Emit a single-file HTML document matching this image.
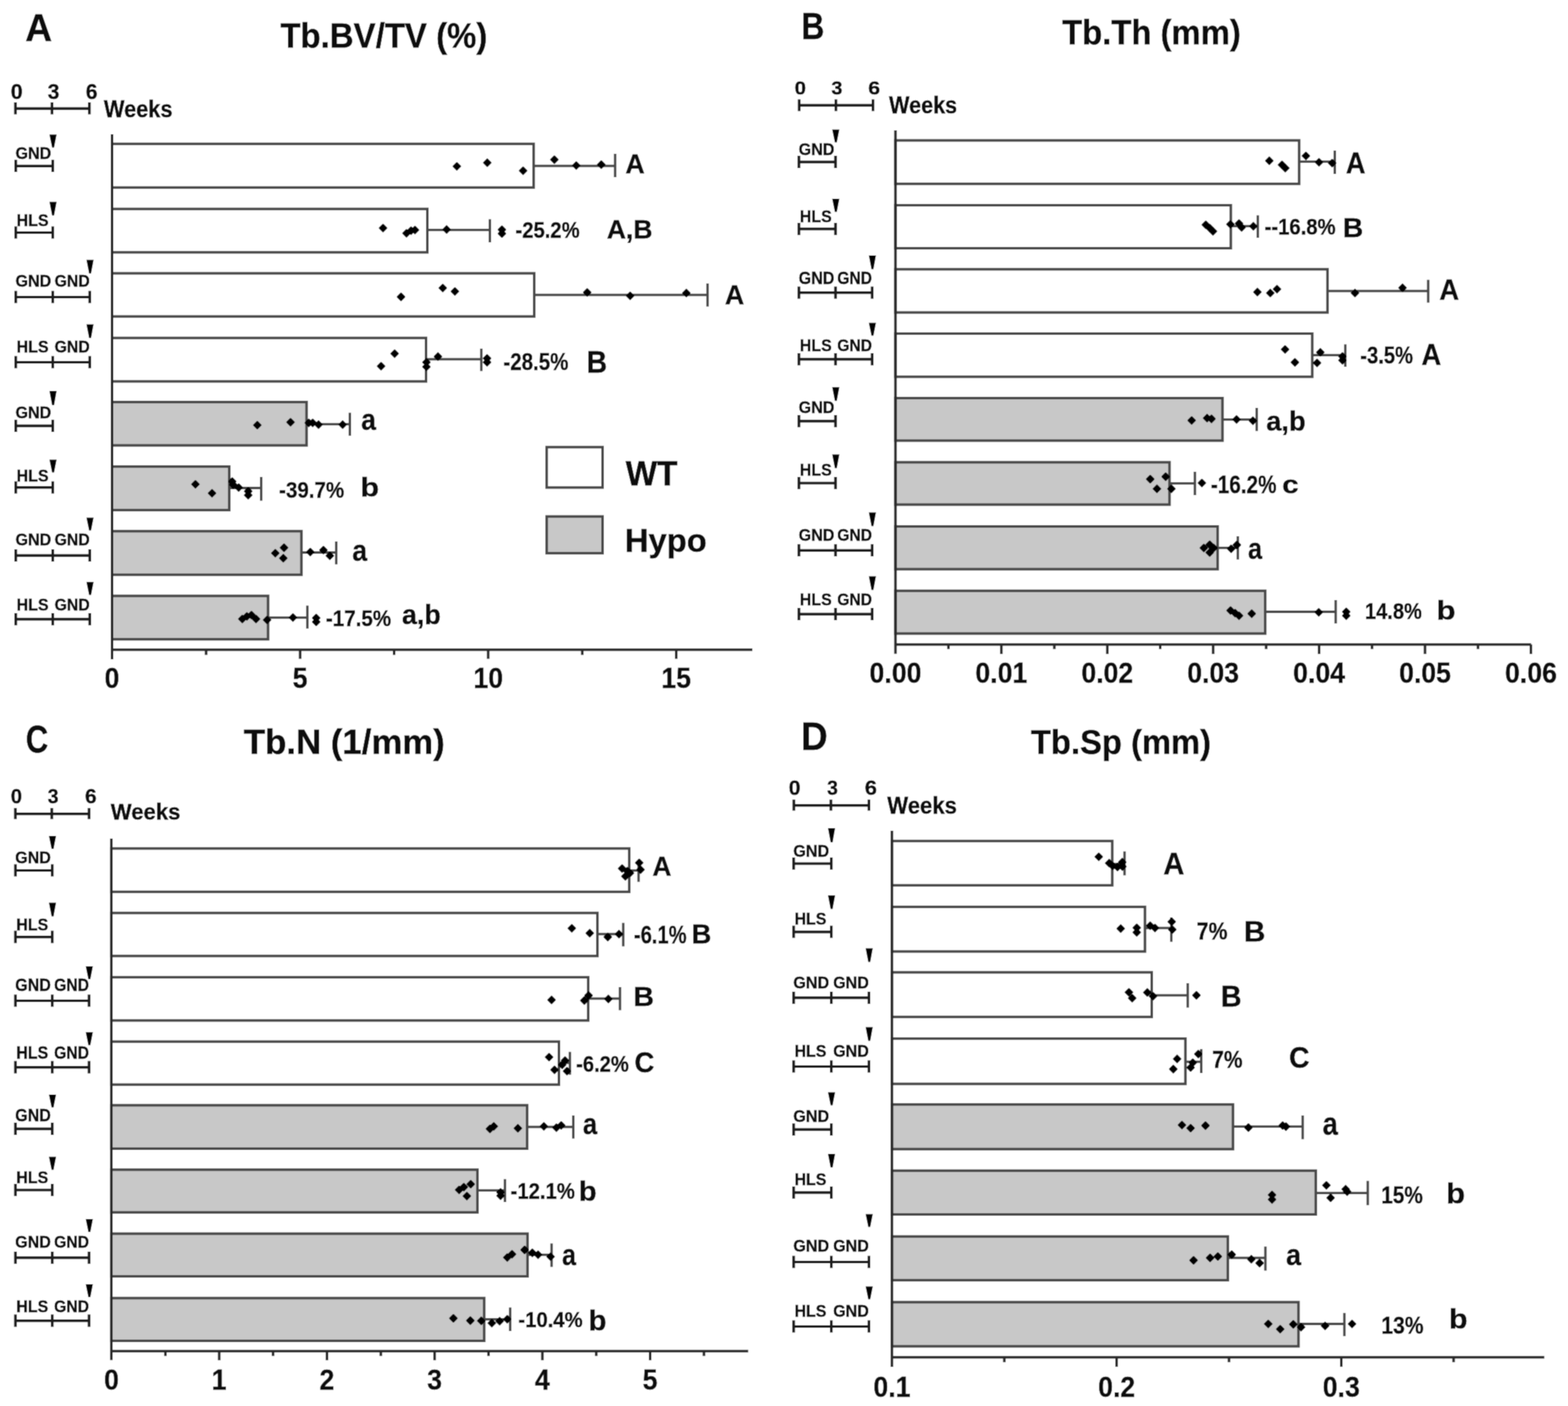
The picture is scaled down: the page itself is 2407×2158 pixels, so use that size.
<!DOCTYPE html>
<html><head><meta charset="utf-8"><title>Trabecular bone microarchitecture</title>
<style>
html,body{margin:0;padding:0;background:#fff;}
body{width:2407px;height:2158px;overflow:hidden;}
svg{display:block;}
#wrap{width:2407px;height:2158px;}
text{font-family:"Liberation Sans",Arial,sans-serif;font-weight:bold;fill:#111;}
.c{fill:#0a0a0a;stroke:#0a0a0a;stroke-width:0.6;}
.r{fill:#111;stroke:#111;stroke-width:0.6;}
.tl{stroke:#1e1e1e;stroke-width:4.2;fill:none;}
.ar{fill:#000;}
.bar{stroke:#484848;stroke-width:4.0;}
.eb{stroke:#484848;stroke-width:3.8;fill:none;}
.d{fill:#000;stroke:#000;stroke-width:3.0;stroke-linejoin:round;}
.ax{stroke:#2a2a2a;stroke-width:4.0;fill:none;}
</style></head>
<body>
<div id="wrap">
<svg width="2407" height="2158" viewBox="0 0 2407 2158">
<defs><filter id="soft" filterUnits="userSpaceOnUse" x="0" y="0" width="2407" height="2158"><feConvolveMatrix order="3" kernelMatrix="1 2 1 2 8 2 1 2 1" divisor="20" edgeMode="duplicate"/></filter></defs>
<g filter="url(#soft)">
<rect width="2407" height="2158" fill="#fff"/>
<path class="tl" d="M23.7 166.7H137.2M23.7 157V175.6M79.8 157V175.6M137.2 157V175.6"/>
<path class="tl" d="M24.2 254.8H81.0M24.2 245.3V264.1M81.0 245.3V264.1"/>
<path class="ar" d="M75.9 206.5H86.9L83.0 226.4H80.0Z"/>
<path class="tl" d="M24.2 357.0H81.0M24.2 347.5V366.3M81.0 347.5V366.3"/>
<path class="ar" d="M75.9 309.8H86.9L83.0 330.8H80.0Z"/>
<path class="tl" d="M24.2 456.0H137.8M24.2 446.5V465.3M137.8 446.5V465.3M81.0 446.5V465.3"/>
<path class="ar" d="M132.7 398.8H143.7L139.8 419.8H136.8Z"/>
<path class="tl" d="M24.2 556.0H137.8M24.2 546.5V565.3M137.8 546.5V565.3M81.0 546.5V565.3"/>
<path class="ar" d="M132.7 497.7H143.7L139.8 518.7H136.8Z"/>
<path class="tl" d="M24.2 653.7H81.0M24.2 644.2V663.0M81.0 644.2V663.0"/>
<path class="ar" d="M75.9 599.9H86.9L83.0 622.0H80.0Z"/>
<path class="tl" d="M24.2 748.2H81.0M24.2 738.7V757.5M81.0 738.7V757.5"/>
<path class="ar" d="M75.9 705.4H86.9L83.0 725.3H80.0Z"/>
<path class="tl" d="M24.2 852.6H137.8M24.2 843.1V861.9M137.8 843.1V861.9M81.0 843.1V861.9"/>
<path class="ar" d="M132.7 794.4H143.7L139.8 814.3H136.8Z"/>
<path class="tl" d="M24.2 950.4H137.8M24.2 940.9V959.7M137.8 940.9V959.7M81.0 940.9V959.7"/>
<path class="ar" d="M132.7 893.3H143.7L139.8 913.2H136.8Z"/>
<rect class="bar" x="172.0" y="220.8" width="647.2" height="67.0" fill="#fff"/>
<rect class="bar" x="172.0" y="320.7" width="484.0" height="66.6" fill="#fff"/>
<rect class="bar" x="172.0" y="419.5" width="648.1" height="66.2" fill="#fff"/>
<rect class="bar" x="172.0" y="518.7" width="482.0" height="66.7" fill="#fff"/>
<rect class="bar" x="172.0" y="617.1" width="298.6" height="66.5" fill="#c8c8c8"/>
<rect class="bar" x="172.0" y="716.1" width="179.9" height="66.8" fill="#c8c8c8"/>
<rect class="bar" x="172.0" y="815.3" width="290.7" height="66.9" fill="#c8c8c8"/>
<rect class="bar" x="172.0" y="914.6" width="239.5" height="66.6" fill="#c8c8c8"/>
<path class="eb" d="M819.2 254.7H944.3M944.3 236V272"/>
<path class="eb" d="M656.0 352.8H752M752 336.5V371.9"/>
<path class="eb" d="M820.1 452.6H1086.2M1086.2 435V470.5"/>
<path class="eb" d="M654.0 551.3H738.8M738.8 535V569.5"/>
<path class="eb" d="M470.6 651.2H537.1M537.1 633.5V668.7"/>
<path class="eb" d="M351.9 749H400.9M400.9 732V768.5"/>
<path class="eb" d="M462.7 848H516.2M516.2 831V866.3"/>
<path class="eb" d="M411.5 947.8H471.8M471.8 929.5V964.8"/>
<path class="d" d="M701.3 250.3L706.3 255.3L701.3 260.3L696.3 255.3Z"/>
<path class="d" d="M748.0 244.7L753.0 249.7L748.0 254.7L743.0 249.7Z"/>
<path class="d" d="M803.0 257.0L808.0 262.0L803.0 267.0L798.0 262.0Z"/>
<path class="d" d="M851.0 240.0L856.0 245.0L851.0 250.0L846.0 245.0Z"/>
<path class="d" d="M884.6 249.0L889.6 254.0L884.6 259.0L879.6 254.0Z"/>
<path class="d" d="M923.0 247.6L928.0 252.6L923.0 257.6L918.0 252.6Z"/>
<path class="d" d="M588.0 345.0L593.0 350.0L588.0 355.0L583.0 350.0Z"/>
<path class="d" d="M624.0 353.0L629.0 358.0L624.0 363.0L619.0 358.0Z"/>
<path class="d" d="M631.0 349.0L636.0 354.0L631.0 359.0L626.0 354.0Z"/>
<path class="d" d="M637.0 348.0L642.0 353.0L637.0 358.0L632.0 353.0Z"/>
<path class="d" d="M685.6 347.2L690.6 352.2L685.6 357.2L680.6 352.2Z"/>
<path class="d" d="M770.5 347.5L775.5 352.5L770.5 357.5L765.5 352.5Z"/>
<path class="d" d="M770.5 353.5L775.5 358.5L770.5 363.5L765.5 358.5Z"/>
<path class="d" d="M615.6 450.6L620.6 455.6L615.6 460.6L610.6 455.6Z"/>
<path class="d" d="M679.7 437.0L684.7 442.0L679.7 447.0L674.7 442.0Z"/>
<path class="d" d="M698.3 442.3L703.3 447.3L698.3 452.3L693.3 447.3Z"/>
<path class="d" d="M901.4 443.8L906.4 448.8L901.4 453.8L896.4 448.8Z"/>
<path class="d" d="M967.3 449.0L972.3 454.0L967.3 459.0L962.3 454.0Z"/>
<path class="d" d="M1053.6 444.7L1058.6 449.7L1053.6 454.7L1048.6 449.7Z"/>
<path class="d" d="M585.0 557.0L590.0 562.0L585.0 567.0L580.0 562.0Z"/>
<path class="d" d="M605.8 537.8L610.8 542.8L605.8 547.8L600.8 542.8Z"/>
<path class="d" d="M654.6 551.0L659.6 556.0L654.6 561.0L649.6 556.0Z"/>
<path class="d" d="M654.6 558.0L659.6 563.0L654.6 568.0L649.6 563.0Z"/>
<path class="d" d="M672.3 542.2L677.3 547.2L672.3 552.2L667.3 547.2Z"/>
<path class="d" d="M747.7 545.0L752.7 550.0L747.7 555.0L742.7 550.0Z"/>
<path class="d" d="M747.7 551.0L752.7 556.0L747.7 561.0L742.7 556.0Z"/>
<path class="d" d="M395.0 647.5L400.0 652.5L395.0 657.5L390.0 652.5Z"/>
<path class="d" d="M446.0 643.0L451.0 648.0L446.0 653.0L441.0 648.0Z"/>
<path class="d" d="M474.0 644.0L479.0 649.0L474.0 654.0L469.0 649.0Z"/>
<path class="d" d="M480.0 644.0L485.0 649.0L480.0 654.0L475.0 649.0Z"/>
<path class="d" d="M489.0 646.7L494.0 651.7L489.0 656.7L484.0 651.7Z"/>
<path class="d" d="M526.0 646.7L531.0 651.7L526.0 656.7L521.0 651.7Z"/>
<path class="d" d="M300.0 738.3L305.0 743.3L300.0 748.3L295.0 743.3Z"/>
<path class="d" d="M325.5 752.0L330.5 757.0L325.5 762.0L320.5 757.0Z"/>
<path class="d" d="M356.5 734.0L361.5 739.0L356.5 744.0L351.5 739.0Z"/>
<path class="d" d="M358.0 739.0L363.0 744.0L358.0 749.0L353.0 744.0Z"/>
<path class="d" d="M366.4 743.3L371.4 748.3L366.4 753.3L361.4 748.3Z"/>
<path class="d" d="M381.0 749.0L386.0 754.0L381.0 759.0L376.0 754.0Z"/>
<path class="d" d="M381.0 755.0L386.0 760.0L381.0 765.0L376.0 760.0Z"/>
<path class="d" d="M422.6 844.0L427.6 849.0L422.6 854.0L417.6 849.0Z"/>
<path class="d" d="M436.0 835.6L441.0 840.6L436.0 845.6L431.0 840.6Z"/>
<path class="d" d="M434.9 851.7L439.9 856.7L434.9 861.7L429.9 856.7Z"/>
<path class="d" d="M476.3 842.3L481.3 847.3L476.3 852.3L471.3 847.3Z"/>
<path class="d" d="M496.5 839.3L501.5 844.3L496.5 849.3L491.5 844.3Z"/>
<path class="d" d="M506.3 848.0L511.3 853.0L506.3 858.0L501.3 853.0Z"/>
<path class="d" d="M372.0 945.0L377.0 950.0L372.0 955.0L367.0 950.0Z"/>
<path class="d" d="M379.0 941.0L384.0 946.0L379.0 951.0L374.0 946.0Z"/>
<path class="d" d="M386.0 939.0L391.0 944.0L386.0 949.0L381.0 944.0Z"/>
<path class="d" d="M393.0 945.0L398.0 950.0L393.0 955.0L388.0 950.0Z"/>
<path class="d" d="M410.0 946.5L415.0 951.5L410.0 956.5L405.0 951.5Z"/>
<path class="d" d="M449.7 942.8L454.7 947.8L449.7 952.8L444.7 947.8Z"/>
<path class="d" d="M485.4 943.5L490.4 948.5L485.4 953.5L480.4 948.5Z"/>
<path class="d" d="M485.4 949.5L490.4 954.5L485.4 959.5L480.4 954.5Z"/>
<path class="ax" d="M172 206V1012M172 997.3H1155"/>
<path class="ax" d="M316.4 997.3V1005.3M460.7 997.3V1011.3M605.0 997.3V1005.3M749.4 997.3V1011.3M893.8 997.3V1005.3M1038.1 997.3V1011.3"/>
<path class="tl" d="M1226.8 161.6H1340.1M1226.8 152.5V170.6M1283.2 152.5V170.6M1340.1 152.5V170.6"/>
<path class="tl" d="M1226.4 248.6H1282.6M1226.4 239.1V257.9M1282.6 239.1V257.9"/>
<path class="ar" d="M1277.5 198.7H1288.5L1284.6 218.6H1281.6Z"/>
<path class="tl" d="M1226.4 351.4H1282.6M1226.4 341.9V360.7M1282.6 341.9V360.7"/>
<path class="ar" d="M1277.5 305.0H1288.5L1284.6 325.2H1281.6Z"/>
<path class="tl" d="M1226.4 449.2H1338.8M1226.4 439.7V458.5M1338.8 439.7V458.5M1282.6 439.7V458.5"/>
<path class="ar" d="M1333.7 392.0H1344.7L1340.8 413.2H1337.8Z"/>
<path class="tl" d="M1226.4 551.4H1338.8M1226.4 541.9V560.7M1338.8 541.9V560.7M1282.6 541.9V560.7"/>
<path class="ar" d="M1333.7 495.4H1344.7L1340.8 515.2H1337.8Z"/>
<path class="tl" d="M1226.4 646.4H1282.6M1226.4 636.9V655.7M1282.6 636.9V655.7"/>
<path class="ar" d="M1277.5 594.3H1288.5L1284.6 615.3H1281.6Z"/>
<path class="tl" d="M1226.4 741.5H1282.6M1226.4 732.0V750.8M1282.6 732.0V750.8"/>
<path class="ar" d="M1277.5 697.6H1288.5L1284.6 718.6H1281.6Z"/>
<path class="tl" d="M1226.4 844.8H1338.8M1226.4 835.3V854.1M1338.8 835.3V854.1M1282.6 835.3V854.1"/>
<path class="ar" d="M1333.7 786.6H1344.7L1340.8 807.6H1337.8Z"/>
<path class="tl" d="M1226.4 942.6H1338.8M1226.4 933.1V951.9M1338.8 933.1V951.9M1282.6 933.1V951.9"/>
<path class="ar" d="M1333.7 884.4H1344.7L1340.8 905.4H1337.8Z"/>
<rect class="bar" x="1374.6" y="215.5" width="619.7" height="66.7" fill="#fff"/>
<rect class="bar" x="1374.6" y="315.0" width="514.8" height="66.0" fill="#fff"/>
<rect class="bar" x="1374.6" y="413.3" width="663.2" height="66.3" fill="#fff"/>
<rect class="bar" x="1374.6" y="512.0" width="639.8" height="66.3" fill="#fff"/>
<rect class="bar" x="1374.6" y="611.0" width="502.0" height="65.3" fill="#c8c8c8"/>
<rect class="bar" x="1374.6" y="709.5" width="420.7" height="65.0" fill="#c8c8c8"/>
<rect class="bar" x="1374.6" y="808.0" width="494.6" height="65.6" fill="#c8c8c8"/>
<rect class="bar" x="1374.6" y="906.8" width="567.6" height="65.6" fill="#c8c8c8"/>
<path class="eb" d="M1994.3 248.2H2049M2049 231V267"/>
<path class="eb" d="M1889.4 347.2H1930.8M1930.8 330.6V365"/>
<path class="eb" d="M2037.8 446.7H2192.4M2192.4 429.5V464.6"/>
<path class="eb" d="M2014.4 545.2H2065.2M2065.2 528.5V563"/>
<path class="eb" d="M1876.6 643.8H1929.2M1929.2 626V661.6"/>
<path class="eb" d="M1795.3 741.9H1834.3M1834.3 724V760"/>
<path class="eb" d="M1869.2 840.8H1900.2M1900.2 823V858.7"/>
<path class="eb" d="M1942.2 939H2050.4M2050.4 921V957"/>
<path class="d" d="M1948.5 241.7L1953.5 246.7L1948.5 251.7L1943.5 246.7Z"/>
<path class="d" d="M1968.0 248.0L1973.0 253.0L1968.0 258.0L1963.0 253.0Z"/>
<path class="d" d="M1973.0 253.0L1978.0 258.0L1973.0 263.0L1968.0 258.0Z"/>
<path class="d" d="M2004.7 234.3L2009.7 239.3L2004.7 244.3L1999.7 239.3Z"/>
<path class="d" d="M2024.8 244.0L2029.8 249.0L2024.8 254.0L2019.8 249.0Z"/>
<path class="d" d="M2045.0 245.3L2050.0 250.3L2045.0 255.3L2040.0 250.3Z"/>
<path class="d" d="M1851.0 340.0L1856.0 345.0L1851.0 350.0L1846.0 345.0Z"/>
<path class="d" d="M1857.0 345.0L1862.0 350.0L1857.0 355.0L1852.0 350.0Z"/>
<path class="d" d="M1862.0 350.0L1867.0 355.0L1862.0 360.0L1857.0 355.0Z"/>
<path class="d" d="M1888.8 339.3L1893.8 344.3L1888.8 349.3L1883.8 344.3Z"/>
<path class="d" d="M1902.0 338.0L1907.0 343.0L1902.0 348.0L1897.0 343.0Z"/>
<path class="d" d="M1906.0 344.0L1911.0 349.0L1906.0 354.0L1901.0 349.0Z"/>
<path class="d" d="M1924.0 342.2L1929.0 347.2L1924.0 352.2L1919.0 347.2Z"/>
<path class="d" d="M1930.2 443.2L1935.2 448.2L1930.2 453.2L1925.2 448.2Z"/>
<path class="d" d="M1950.0 444.7L1955.0 449.7L1950.0 454.7L1945.0 449.7Z"/>
<path class="d" d="M1960.3 438.8L1965.3 443.8L1960.3 448.8L1955.3 443.8Z"/>
<path class="d" d="M2080.0 444.7L2085.0 449.7L2080.0 454.7L2075.0 449.7Z"/>
<path class="d" d="M2153.0 436.7L2158.0 441.7L2153.0 446.7L2148.0 441.7Z"/>
<path class="d" d="M1972.7 531.3L1977.7 536.3L1972.7 541.3L1967.7 536.3Z"/>
<path class="d" d="M1987.8 551.1L1992.8 556.1L1987.8 561.1L1982.8 556.1Z"/>
<path class="d" d="M2026.8 535.7L2031.8 540.7L2026.8 545.7L2021.8 540.7Z"/>
<path class="d" d="M2021.8 552.0L2026.8 557.0L2021.8 562.0L2016.8 557.0Z"/>
<path class="d" d="M2060.8 542.0L2065.8 547.0L2060.8 552.0L2055.8 547.0Z"/>
<path class="d" d="M2060.8 548.0L2065.8 553.0L2060.8 558.0L2055.8 553.0Z"/>
<path class="d" d="M1829.3 640.3L1834.3 645.3L1829.3 650.3L1824.3 645.3Z"/>
<path class="d" d="M1853.0 636.7L1858.0 641.7L1853.0 646.7L1848.0 641.7Z"/>
<path class="d" d="M1859.7 637.9L1864.7 642.9L1859.7 647.9L1854.7 642.9Z"/>
<path class="d" d="M1898.2 638.8L1903.2 643.8L1898.2 648.8L1893.2 643.8Z"/>
<path class="d" d="M1923.3 640.8L1928.3 645.8L1923.3 650.8L1918.3 645.8Z"/>
<path class="d" d="M1765.7 730.4L1770.7 735.4L1765.7 740.4L1760.7 735.4Z"/>
<path class="d" d="M1776.0 745.2L1781.0 750.2L1776.0 755.2L1771.0 750.2Z"/>
<path class="d" d="M1789.4 726.6L1794.4 731.6L1789.4 736.6L1784.4 731.6Z"/>
<path class="d" d="M1798.2 745.2L1803.2 750.2L1798.2 755.2L1793.2 750.2Z"/>
<path class="d" d="M1845.0 736.3L1850.0 741.3L1845.0 746.3L1840.0 741.3Z"/>
<path class="d" d="M1848.0 836.0L1853.0 841.0L1848.0 846.0L1843.0 841.0Z"/>
<path class="d" d="M1857.0 831.0L1862.0 836.0L1857.0 841.0L1852.0 836.0Z"/>
<path class="d" d="M1857.0 843.0L1862.0 848.0L1857.0 853.0L1852.0 848.0Z"/>
<path class="d" d="M1863.0 836.0L1868.0 841.0L1863.0 846.0L1858.0 841.0Z"/>
<path class="d" d="M1889.9 837.3L1894.9 842.3L1889.9 847.3L1884.9 842.3Z"/>
<path class="d" d="M1898.7 831.4L1903.7 836.4L1898.7 841.4L1893.7 836.4Z"/>
<path class="d" d="M1889.0 932.0L1894.0 937.0L1889.0 942.0L1884.0 937.0Z"/>
<path class="d" d="M1896.0 936.0L1901.0 941.0L1896.0 946.0L1891.0 941.0Z"/>
<path class="d" d="M1902.0 940.0L1907.0 945.0L1902.0 950.0L1897.0 945.0Z"/>
<path class="d" d="M1921.5 936.9L1926.5 941.9L1921.5 946.9L1916.5 941.9Z"/>
<path class="d" d="M2024.4 934.8L2029.4 939.8L2024.4 944.8L2019.4 939.8Z"/>
<path class="d" d="M2066.6 934.0L2071.6 939.0L2066.6 944.0L2061.6 939.0Z"/>
<path class="d" d="M2066.6 940.0L2071.6 945.0L2066.6 950.0L2061.6 945.0Z"/>
<path class="ax" d="M1374.6 200V1003.5M1374.6 989.2H2350.4"/>
<path class="ax" d="M1455.9 989.2V996.2M1537.2 989.2V1003.7M1618.5 989.2V996.2M1699.8 989.2V1003.7M1781.0 989.2V996.2M1862.3 989.2V1003.7M1943.6 989.2V996.2M2024.9 989.2V1003.7M2106.2 989.2V996.2M2187.5 989.2V1003.7M2268.8 989.2V996.2M2350.1 989.2V1003.7"/>
<path class="tl" d="M23.6 1249.1H136.7M23.6 1240.2V1257.2M79.5 1240.2V1257.2M136.7 1240.2V1257.2"/>
<path class="tl" d="M23.7 1336.0H80.2M23.7 1326.5V1345.3M80.2 1326.5V1345.3"/>
<path class="ar" d="M75.1 1283.0H86.1L82.2 1303.1H79.2Z"/>
<path class="tl" d="M23.7 1438.1H80.2M23.7 1428.6V1447.4M80.2 1428.6V1447.4"/>
<path class="ar" d="M75.1 1385.4H86.1L82.2 1406.4H79.2Z"/>
<path class="tl" d="M23.7 1536.0H136.7M23.7 1526.5V1545.3M136.7 1526.5V1545.3M80.2 1526.5V1545.3"/>
<path class="ar" d="M131.6 1483.0H142.6L138.7 1503.1H135.7Z"/>
<path class="tl" d="M23.7 1638.1H136.7M23.7 1628.6V1647.4M136.7 1628.6V1647.4M80.2 1628.6V1647.4"/>
<path class="ar" d="M131.6 1584.3H142.6L138.7 1604.2H135.7Z"/>
<path class="tl" d="M23.7 1732.6H80.2M23.7 1723.1V1741.9M80.2 1723.1V1741.9"/>
<path class="ar" d="M75.1 1680.0H86.1L82.2 1699.8H79.2Z"/>
<path class="tl" d="M23.7 1826.5H80.2M23.7 1817.0V1835.8M80.2 1817.0V1835.8"/>
<path class="ar" d="M75.1 1775.5H86.1L82.2 1795.4H79.2Z"/>
<path class="tl" d="M23.7 1930.4H136.7M23.7 1920.9V1939.7M136.7 1920.9V1939.7M80.2 1920.9V1939.7"/>
<path class="ar" d="M131.6 1871.0H142.6L138.7 1891.0H135.7Z"/>
<path class="tl" d="M23.7 2027.1H136.7M23.7 2017.6V2036.4M136.7 2017.6V2036.4M80.2 2017.6V2036.4"/>
<path class="ar" d="M131.6 1971.0H142.6L138.7 1991.0H135.7Z"/>
<rect class="bar" x="170.9" y="1302.3" width="795.0" height="66.5" fill="#fff"/>
<rect class="bar" x="170.9" y="1401.3" width="746.2" height="66.0" fill="#fff"/>
<rect class="bar" x="170.9" y="1499.9" width="732.0" height="66.4" fill="#fff"/>
<rect class="bar" x="170.9" y="1598.7" width="687.1" height="66.0" fill="#fff"/>
<rect class="bar" x="170.9" y="1696.4" width="638.3" height="66.6" fill="#c8c8c8"/>
<rect class="bar" x="170.9" y="1795.3" width="562.0" height="65.5" fill="#c8c8c8"/>
<rect class="bar" x="170.9" y="1893.5" width="638.9" height="65.5" fill="#c8c8c8"/>
<rect class="bar" x="170.9" y="1992.4" width="572.4" height="65.6" fill="#c8c8c8"/>
<path class="eb" d="M965.9 1336.2H980.3M980.3 1320.4V1353.4"/>
<path class="eb" d="M917.1 1433.7H956.7M956.7 1416.5V1452.4"/>
<path class="eb" d="M902.9 1532.6H951.7M951.7 1515V1550.5"/>
<path class="eb" d="M858.0 1631.3H874.8M874.8 1614.4V1649.5"/>
<path class="eb" d="M809.2 1729.7H880.1M880.1 1712V1747.5"/>
<path class="eb" d="M732.9 1827.2H775.2M775.2 1809.7V1845"/>
<path class="eb" d="M809.8 1925.8H846.7M846.7 1908.6V1944.6"/>
<path class="eb" d="M743.3 2024.8H783.2M783.2 2006.7V2043"/>
<path class="d" d="M955.0 1328.0L960.0 1333.0L955.0 1338.0L950.0 1333.0Z"/>
<path class="d" d="M960.0 1340.0L965.0 1345.0L960.0 1350.0L955.0 1345.0Z"/>
<path class="d" d="M963.0 1332.0L968.0 1337.0L963.0 1342.0L958.0 1337.0Z"/>
<path class="d" d="M967.0 1335.0L972.0 1340.0L967.0 1345.0L962.0 1340.0Z"/>
<path class="d" d="M981.2 1319.3L986.2 1324.3L981.2 1329.3L976.2 1324.3Z"/>
<path class="d" d="M983.3 1329.7L988.3 1334.7L983.3 1339.7L978.3 1334.7Z"/>
<path class="d" d="M877.8 1419.8L882.8 1424.8L877.8 1429.8L872.8 1424.8Z"/>
<path class="d" d="M905.3 1427.2L910.3 1432.2L905.3 1437.2L900.3 1432.2Z"/>
<path class="d" d="M933.0 1433.1L938.0 1438.1L933.0 1443.1L928.0 1438.1Z"/>
<path class="d" d="M950.2 1428.7L955.2 1433.7L950.2 1438.7L945.2 1433.7Z"/>
<path class="d" d="M846.7 1529.7L851.7 1534.7L846.7 1539.7L841.7 1534.7Z"/>
<path class="d" d="M897.0 1530.6L902.0 1535.6L897.0 1540.6L892.0 1535.6Z"/>
<path class="d" d="M903.5 1522.9L908.5 1527.9L903.5 1532.9L898.5 1527.9Z"/>
<path class="d" d="M933.9 1528.2L938.9 1533.2L933.9 1538.2L928.9 1533.2Z"/>
<path class="d" d="M842.9 1617.5L847.9 1622.5L842.9 1627.5L837.9 1622.5Z"/>
<path class="d" d="M851.2 1637.0L856.2 1642.0L851.2 1647.0L846.2 1642.0Z"/>
<path class="d" d="M863.0 1629.3L868.0 1634.3L863.0 1639.3L858.0 1634.3Z"/>
<path class="d" d="M870.4 1639.0L875.4 1644.0L870.4 1649.0L865.4 1644.0Z"/>
<path class="d" d="M867.4 1622.8L872.4 1627.8L867.4 1632.8L862.4 1627.8Z"/>
<path class="d" d="M752.1 1727.6L757.1 1732.6L752.1 1737.6L747.1 1732.6Z"/>
<path class="d" d="M758.0 1723.8L763.0 1728.8L758.0 1733.8L753.0 1728.8Z"/>
<path class="d" d="M795.0 1726.7L800.0 1731.7L795.0 1736.7L790.0 1731.7Z"/>
<path class="d" d="M834.9 1723.8L839.9 1728.8L834.9 1733.8L829.9 1728.8Z"/>
<path class="d" d="M854.1 1725.8L859.1 1730.8L854.1 1735.8L849.1 1730.8Z"/>
<path class="d" d="M861.5 1722.3L866.5 1727.3L861.5 1732.3L856.5 1727.3Z"/>
<path class="d" d="M704.8 1821.3L709.8 1826.3L704.8 1831.3L699.8 1826.3Z"/>
<path class="d" d="M716.7 1830.8L721.7 1835.8L716.7 1840.8L711.7 1835.8Z"/>
<path class="d" d="M722.6 1812.5L727.6 1817.5L722.6 1822.5L717.6 1817.5Z"/>
<path class="d" d="M712.0 1817.0L717.0 1822.0L712.0 1827.0L707.0 1822.0Z"/>
<path class="d" d="M768.4 1830.2L773.4 1835.2L768.4 1840.2L763.4 1835.2Z"/>
<path class="d" d="M768.4 1825.0L773.4 1830.0L768.4 1835.0L763.4 1830.0Z"/>
<path class="d" d="M778.7 1925.0L783.7 1930.0L778.7 1935.0L773.7 1930.0Z"/>
<path class="d" d="M786.0 1920.0L791.0 1925.0L786.0 1930.0L781.0 1925.0Z"/>
<path class="d" d="M805.3 1913.4L810.3 1918.4L805.3 1923.4L800.3 1918.4Z"/>
<path class="d" d="M817.2 1917.9L822.2 1922.9L817.2 1927.9L812.2 1922.9Z"/>
<path class="d" d="M826.0 1920.8L831.0 1925.8L826.0 1930.8L821.0 1925.8Z"/>
<path class="d" d="M845.2 1923.8L850.2 1928.8L845.2 1933.8L840.2 1928.8Z"/>
<path class="d" d="M696.0 2018.4L701.0 2023.4L696.0 2028.4L691.0 2023.4Z"/>
<path class="d" d="M722.0 2021.9L727.0 2026.9L722.0 2031.9L717.0 2026.9Z"/>
<path class="d" d="M738.8 2022.2L743.8 2027.2L738.8 2032.2L733.8 2027.2Z"/>
<path class="d" d="M755.0 2025.8L760.0 2030.8L755.0 2035.8L750.0 2030.8Z"/>
<path class="d" d="M767.0 2022.8L772.0 2027.8L767.0 2032.8L762.0 2027.8Z"/>
<path class="d" d="M778.7 2019.8L783.7 2024.8L778.7 2029.8L773.7 2024.8Z"/>
<path class="ax" d="M170.9 1287V2087.4M170.9 2073.8H1148.5"/>
<path class="ax" d="M253.9 2073.8V2081.3M336.5 2073.8V2087.8M419.2 2073.8V2081.3M501.9 2073.8V2087.8M584.6 2073.8V2081.3M667.2 2073.8V2087.8M749.9 2073.8V2081.3M832.6 2073.8V2087.8M915.3 2073.8V2081.3M998.0 2073.8V2087.8M1080.6 2073.8V2081.3"/>
<path class="tl" d="M1218.6 1236.2H1333.9M1218.6 1227.3V1244.3M1275.5 1227.3V1244.3M1333.9 1227.3V1244.3"/>
<path class="tl" d="M1218.3 1325.5H1276.1M1218.3 1316.0V1334.8M1276.1 1316.0V1334.8"/>
<path class="ar" d="M1271.0 1271.0H1282.0L1278.1 1293.1H1275.1Z"/>
<path class="tl" d="M1218.3 1430.3H1276.1M1218.3 1420.8V1439.6M1276.1 1420.8V1439.6"/>
<path class="ar" d="M1271.0 1374.3H1282.0L1278.1 1395.2H1275.1Z"/>
<path class="tl" d="M1218.3 1531.4H1333.9M1218.3 1521.9V1540.7M1333.9 1521.9V1540.7M1276.1 1521.9V1540.7"/>
<path class="ar" d="M1328.8 1455.6H1339.8L1335.9 1476.6H1332.9Z"/>
<path class="tl" d="M1218.3 1637.0H1333.9M1218.3 1627.5V1646.3M1333.9 1627.5V1646.3M1276.1 1627.5V1646.3"/>
<path class="ar" d="M1328.8 1576.5H1339.8L1335.9 1597.5H1332.9Z"/>
<path class="tl" d="M1218.3 1733.7H1276.1M1218.3 1724.2V1743.0M1276.1 1724.2V1743.0"/>
<path class="ar" d="M1271.0 1676.6H1282.0L1278.1 1696.5H1275.1Z"/>
<path class="tl" d="M1218.3 1830.4H1276.1M1218.3 1820.9V1839.7M1276.1 1820.9V1839.7"/>
<path class="ar" d="M1271.0 1771.0H1282.0L1278.1 1792.1H1275.1Z"/>
<path class="tl" d="M1218.3 1937.0H1333.9M1218.3 1927.5V1946.3M1333.9 1927.5V1946.3M1276.1 1927.5V1946.3"/>
<path class="ar" d="M1328.8 1863.4H1339.8L1335.9 1883.3H1332.9Z"/>
<path class="tl" d="M1218.3 2036.0H1333.9M1218.3 2026.5V2045.3M1333.9 2026.5V2045.3M1276.1 2026.5V2045.3"/>
<path class="ar" d="M1328.8 1974.4H1339.8L1335.9 1994.2H1332.9Z"/>
<rect class="bar" x="1369.2" y="1290.8" width="338.2" height="68.0" fill="#fff"/>
<rect class="bar" x="1369.2" y="1391.9" width="388.4" height="68.5" fill="#fff"/>
<rect class="bar" x="1369.2" y="1492.4" width="398.8" height="68.4" fill="#fff"/>
<rect class="bar" x="1369.2" y="1594.1" width="450.5" height="69.5" fill="#fff"/>
<rect class="bar" x="1369.2" y="1695.2" width="523.5" height="68.5" fill="#c8c8c8"/>
<rect class="bar" x="1369.2" y="1796.8" width="650.6" height="67.2" fill="#c8c8c8"/>
<rect class="bar" x="1369.2" y="1897.8" width="515.6" height="67.1" fill="#c8c8c8"/>
<rect class="bar" x="1369.2" y="1998.6" width="624.1" height="67.8" fill="#c8c8c8"/>
<path class="eb" d="M1707.4 1326.2H1726.3M1726.3 1306.8V1343.4"/>
<path class="eb" d="M1757.6 1424.3H1798.1M1798.1 1408V1445.4"/>
<path class="eb" d="M1768.0 1527.6H1823.3M1823.3 1509V1546.4"/>
<path class="eb" d="M1819.7 1629.6H1844M1844 1610.3V1646.9"/>
<path class="eb" d="M1892.7 1729.1H1999.7M1999.7 1711.9V1748.4"/>
<path class="eb" d="M2019.8 1831.1H2099.6M2099.6 1812.4V1849.8"/>
<path class="eb" d="M1884.8 1930.6H1942.5M1942.5 1913.3V1950.2"/>
<path class="eb" d="M1993.3 2032H2063.7M2063.7 2015.3V2050.7"/>
<path class="d" d="M1686.7 1310.0L1691.7 1315.0L1686.7 1320.0L1681.7 1315.0Z"/>
<path class="d" d="M1702.7 1319.7L1707.7 1324.7L1702.7 1329.7L1697.7 1324.7Z"/>
<path class="d" d="M1708.0 1324.0L1713.0 1329.0L1708.0 1334.0L1703.0 1329.0Z"/>
<path class="d" d="M1715.4 1325.6L1720.4 1330.6L1715.4 1335.6L1710.4 1330.6Z"/>
<path class="d" d="M1722.8 1318.2L1727.8 1323.2L1722.8 1328.2L1717.8 1323.2Z"/>
<path class="d" d="M1723.0 1325.0L1728.0 1330.0L1723.0 1335.0L1718.0 1330.0Z"/>
<path class="d" d="M1720.4 1420.2L1725.4 1425.2L1720.4 1430.2L1715.4 1425.2Z"/>
<path class="d" d="M1745.0 1419.0L1750.0 1424.0L1745.0 1429.0L1740.0 1424.0Z"/>
<path class="d" d="M1745.0 1426.0L1750.0 1431.0L1745.0 1436.0L1740.0 1431.0Z"/>
<path class="d" d="M1765.6 1415.8L1770.6 1420.8L1765.6 1425.8L1760.6 1420.8Z"/>
<path class="d" d="M1773.0 1419.3L1778.0 1424.3L1773.0 1429.3L1768.0 1424.3Z"/>
<path class="d" d="M1798.7 1409.8L1803.7 1414.8L1798.7 1419.8L1793.7 1414.8Z"/>
<path class="d" d="M1799.6 1421.7L1804.6 1426.7L1799.6 1431.7L1794.6 1426.7Z"/>
<path class="d" d="M1733.0 1518.0L1738.0 1523.0L1733.0 1528.0L1728.0 1523.0Z"/>
<path class="d" d="M1738.0 1527.0L1743.0 1532.0L1738.0 1537.0L1733.0 1532.0Z"/>
<path class="d" d="M1761.2 1518.2L1766.2 1523.2L1761.2 1528.2L1756.2 1523.2Z"/>
<path class="d" d="M1770.0 1524.0L1775.0 1529.0L1770.0 1534.0L1765.0 1529.0Z"/>
<path class="d" d="M1836.6 1522.6L1841.6 1527.6L1836.6 1532.6L1831.6 1527.6Z"/>
<path class="d" d="M1807.0 1620.2L1812.0 1625.2L1807.0 1630.2L1802.0 1625.2Z"/>
<path class="d" d="M1801.1 1635.9L1806.1 1640.9L1801.1 1645.9L1796.1 1640.9Z"/>
<path class="d" d="M1827.7 1633.5L1832.7 1638.5L1827.7 1643.5L1822.7 1638.5Z"/>
<path class="d" d="M1839.5 1612.8L1844.5 1617.8L1839.5 1622.8L1834.5 1617.8Z"/>
<path class="d" d="M1831.0 1626.0L1836.0 1631.0L1831.0 1636.0L1826.0 1631.0Z"/>
<path class="d" d="M1814.4 1721.8L1819.4 1726.8L1814.4 1731.8L1809.4 1726.8Z"/>
<path class="d" d="M1827.7 1726.5L1832.7 1731.5L1827.7 1736.5L1822.7 1731.5Z"/>
<path class="d" d="M1850.5 1722.6L1855.5 1727.6L1850.5 1732.6L1845.5 1727.6Z"/>
<path class="d" d="M1916.4 1725.6L1921.4 1730.6L1916.4 1735.6L1911.4 1730.6Z"/>
<path class="d" d="M1974.0 1724.1L1979.0 1729.1L1974.0 1734.1L1969.0 1729.1Z"/>
<path class="d" d="M1969.0 1722.5L1974.0 1727.5L1969.0 1732.5L1964.0 1727.5Z"/>
<path class="d" d="M1952.7 1829.0L1957.7 1834.0L1952.7 1839.0L1947.7 1834.0Z"/>
<path class="d" d="M1952.7 1836.0L1957.7 1841.0L1952.7 1846.0L1947.7 1841.0Z"/>
<path class="d" d="M2036.1 1814.3L2041.1 1819.3L2036.1 1824.3L2031.1 1819.3Z"/>
<path class="d" d="M2042.6 1833.5L2047.6 1838.5L2042.6 1843.5L2037.6 1838.5Z"/>
<path class="d" d="M2065.7 1820.2L2070.7 1825.2L2065.7 1830.2L2060.7 1825.2Z"/>
<path class="d" d="M2068.0 1824.0L2073.0 1829.0L2068.0 1834.0L2063.0 1829.0Z"/>
<path class="d" d="M1832.2 1929.4L1837.2 1934.4L1832.2 1939.4L1827.2 1934.4Z"/>
<path class="d" d="M1857.6 1925.6L1862.6 1930.6L1857.6 1935.6L1852.6 1930.6Z"/>
<path class="d" d="M1869.5 1923.5L1874.5 1928.5L1869.5 1933.5L1864.5 1928.5Z"/>
<path class="d" d="M1890.8 1920.6L1895.8 1925.6L1890.8 1930.6L1885.8 1925.6Z"/>
<path class="d" d="M1920.9 1927.7L1925.9 1932.7L1920.9 1937.7L1915.9 1932.7Z"/>
<path class="d" d="M1933.6 1933.6L1938.6 1938.6L1933.6 1943.6L1928.6 1938.6Z"/>
<path class="d" d="M1946.9 2027.0L1951.9 2032.0L1946.9 2037.0L1941.9 2032.0Z"/>
<path class="d" d="M1965.2 2035.0L1970.2 2040.0L1965.2 2045.0L1960.2 2040.0Z"/>
<path class="d" d="M1985.3 2027.6L1990.3 2032.6L1985.3 2037.6L1980.3 2032.6Z"/>
<path class="d" d="M1997.2 2032.0L2002.2 2037.0L1997.2 2042.0L1992.2 2037.0Z"/>
<path class="d" d="M2034.1 2030.0L2039.1 2035.0L2034.1 2040.0L2029.1 2035.0Z"/>
<path class="d" d="M2075.5 2027.0L2080.5 2032.0L2075.5 2037.0L2070.5 2032.0Z"/>
<path class="ax" d="M1369.2 1275V2098M1369.2 2083.3H2370.6"/>
<path class="ax" d="M1541.7 2083.3V2090.8M1714.1 2083.3V2097.8M1886.6 2083.3V2090.8M2059.0 2083.3V2097.8M2231.4 2083.3V2090.8"/>
<rect class="bar" x="839.2" y="686.3" width="85.8" height="62" fill="#fff"/>
<rect class="bar" x="839.2" y="792.7" width="85.8" height="56.4" fill="#c8c8c8"/>
<g class="tx">
<text class="c" x="38.8" y="63.4" font-size="59.13" textLength="41.3" lengthAdjust="spacingAndGlyphs">A</text>
<text class="c" x="430.4" y="72.8" font-size="54.20" textLength="317.8" lengthAdjust="spacingAndGlyphs">Tb.BV/TV (%)</text>
<text class="c" x="16.5" y="151.6" font-size="32.39" textLength="18.3" lengthAdjust="spacingAndGlyphs">0</text>
<text class="c" x="73.2" y="151.6" font-size="32.39" textLength="18.0" lengthAdjust="spacingAndGlyphs">3</text>
<text class="c" x="131.7" y="151.6" font-size="32.39" textLength="17.9" lengthAdjust="spacingAndGlyphs">6</text>
<text class="c" x="159.5" y="180.4" font-size="37.28" textLength="105.3" lengthAdjust="spacingAndGlyphs">Weeks</text>
<text class="r" x="23.7" y="243.5" font-size="26.06" textLength="55.0" lengthAdjust="spacingAndGlyphs">GND</text>
<text class="r" x="25.6" y="346.8" font-size="26.06" textLength="48.9" lengthAdjust="spacingAndGlyphs">HLS</text>
<text class="r" x="23.7" y="440.2" font-size="26.06" textLength="55.0" lengthAdjust="spacingAndGlyphs">GND</text>
<text class="r" x="83.7" y="440.2" font-size="26.06" textLength="54.0" lengthAdjust="spacingAndGlyphs">GND</text>
<text class="r" x="25.6" y="541.3" font-size="26.20" textLength="48.9" lengthAdjust="spacingAndGlyphs">HLS</text>
<text class="r" x="83.7" y="541.3" font-size="26.20" textLength="54.0" lengthAdjust="spacingAndGlyphs">GND</text>
<text class="r" x="23.7" y="642.0" font-size="25.49" textLength="55.0" lengthAdjust="spacingAndGlyphs">GND</text>
<text class="r" x="25.6" y="739.2" font-size="26.20" textLength="48.9" lengthAdjust="spacingAndGlyphs">HLS</text>
<text class="r" x="23.7" y="837.0" font-size="26.20" textLength="55.0" lengthAdjust="spacingAndGlyphs">GND</text>
<text class="r" x="83.7" y="837.0" font-size="26.20" textLength="54.0" lengthAdjust="spacingAndGlyphs">GND</text>
<text class="r" x="25.6" y="937.0" font-size="26.20" textLength="48.9" lengthAdjust="spacingAndGlyphs">HLS</text>
<text class="r" x="83.7" y="937.0" font-size="26.20" textLength="54.0" lengthAdjust="spacingAndGlyphs">GND</text>
<text class="r" x="960.0" y="266.4" font-size="42.90" textLength="29.7" lengthAdjust="spacingAndGlyphs">A</text>
<text class="r" x="791.3" y="364.6" font-size="35.14" textLength="98.5" lengthAdjust="spacingAndGlyphs">-25.2%</text>
<text class="r" x="931.4" y="366.3" font-size="41.30" textLength="70.3" lengthAdjust="spacingAndGlyphs">A,B</text>
<text class="r" x="1112.7" y="467.4" font-size="42.90" textLength="29.7" lengthAdjust="spacingAndGlyphs">A</text>
<text class="r" x="772.7" y="568.2" font-size="36.86" textLength="100.0" lengthAdjust="spacingAndGlyphs">-28.5%</text>
<text class="r" x="900.6" y="571.6" font-size="47.25" textLength="31.5" lengthAdjust="spacingAndGlyphs">B</text>
<text class="r" x="554.6" y="659.6" font-size="46.11" textLength="22.6" lengthAdjust="spacingAndGlyphs">a</text>
<text class="r" x="428.4" y="764.4" font-size="35.71" textLength="100.0" lengthAdjust="spacingAndGlyphs">-39.7%</text>
<text class="r" x="553.2" y="761.9" font-size="41.24" textLength="28.7" lengthAdjust="spacingAndGlyphs">b</text>
<text class="r" x="540.8" y="860.6" font-size="45.56" textLength="22.9" lengthAdjust="spacingAndGlyphs">a</text>
<text class="r" x="500.3" y="960.6" font-size="35.83" textLength="100.1" lengthAdjust="spacingAndGlyphs">-17.5%</text>
<text class="r" x="617.1" y="957.7" font-size="41.66" textLength="59.6" lengthAdjust="spacingAndGlyphs">a,b</text>
<text class="r" x="172.0" y="1056.1" font-size="44.5" text-anchor="middle" textLength="22.8" lengthAdjust="spacingAndGlyphs">0</text>
<text class="r" x="460.7" y="1056.1" font-size="44.5" text-anchor="middle" textLength="22.8" lengthAdjust="spacingAndGlyphs">5</text>
<text class="r" x="749.4" y="1056.1" font-size="44.5" text-anchor="middle" textLength="45.5" lengthAdjust="spacingAndGlyphs">10</text>
<text class="r" x="1038.1" y="1056.1" font-size="44.5" text-anchor="middle" textLength="45.5" lengthAdjust="spacingAndGlyphs">15</text>
<text class="c" x="1230.3" y="60.1" font-size="56.81" textLength="35.2" lengthAdjust="spacingAndGlyphs">B</text>
<text class="c" x="1630.6" y="68.2" font-size="53.91" textLength="274.1" lengthAdjust="spacingAndGlyphs">Tb.Th (mm)</text>
<text class="c" x="1219.7" y="144.7" font-size="29.15" textLength="17.6" lengthAdjust="spacingAndGlyphs">0</text>
<text class="c" x="1276.2" y="144.7" font-size="29.15" textLength="16.9" lengthAdjust="spacingAndGlyphs">3</text>
<text class="c" x="1332.8" y="144.7" font-size="29.15" textLength="18.3" lengthAdjust="spacingAndGlyphs">6</text>
<text class="c" x="1364.8" y="174.2" font-size="36.19" textLength="104.5" lengthAdjust="spacingAndGlyphs">Weeks</text>
<text class="r" x="1225.9" y="237.9" font-size="26.06" textLength="55.0" lengthAdjust="spacingAndGlyphs">GND</text>
<text class="r" x="1227.8" y="341.2" font-size="26.06" textLength="48.9" lengthAdjust="spacingAndGlyphs">HLS</text>
<text class="r" x="1225.9" y="435.7" font-size="26.76" textLength="55.0" lengthAdjust="spacingAndGlyphs">GND</text>
<text class="r" x="1285.3" y="435.7" font-size="26.76" textLength="53.4" lengthAdjust="spacingAndGlyphs">GND</text>
<text class="r" x="1227.8" y="539.0" font-size="26.48" textLength="48.9" lengthAdjust="spacingAndGlyphs">HLS</text>
<text class="r" x="1285.3" y="539.0" font-size="26.48" textLength="53.4" lengthAdjust="spacingAndGlyphs">GND</text>
<text class="r" x="1225.9" y="633.7" font-size="26.06" textLength="55.0" lengthAdjust="spacingAndGlyphs">GND</text>
<text class="r" x="1227.8" y="730.2" font-size="26.06" textLength="48.9" lengthAdjust="spacingAndGlyphs">HLS</text>
<text class="r" x="1225.9" y="830.2" font-size="26.06" textLength="55.0" lengthAdjust="spacingAndGlyphs">GND</text>
<text class="r" x="1285.3" y="830.2" font-size="26.06" textLength="53.4" lengthAdjust="spacingAndGlyphs">GND</text>
<text class="r" x="1227.8" y="929.2" font-size="26.20" textLength="48.9" lengthAdjust="spacingAndGlyphs">HLS</text>
<text class="r" x="1285.3" y="929.2" font-size="26.20" textLength="53.4" lengthAdjust="spacingAndGlyphs">GND</text>
<text class="r" x="2066.0" y="265.6" font-size="45.80" textLength="30.2" lengthAdjust="spacingAndGlyphs">A</text>
<text class="r" x="1941.3" y="359.6" font-size="35.14" textLength="109.0" lengthAdjust="spacingAndGlyphs">--16.8%</text>
<text class="r" x="2061.2" y="364.1" font-size="43.04" textLength="31.4" lengthAdjust="spacingAndGlyphs">B</text>
<text class="r" x="2209.6" y="460.1" font-size="44.78" textLength="30.4" lengthAdjust="spacingAndGlyphs">A</text>
<text class="r" x="2088.1" y="558.2" font-size="36.43" textLength="81.0" lengthAdjust="spacingAndGlyphs">-3.5%</text>
<text class="r" x="2181.9" y="559.8" font-size="45.51" textLength="30.4" lengthAdjust="spacingAndGlyphs">A</text>
<text class="r" x="1943.8" y="660.6" font-size="41.79" textLength="60.5" lengthAdjust="spacingAndGlyphs">a,b</text>
<text class="r" x="1858.7" y="756.6" font-size="38.00" textLength="100.9" lengthAdjust="spacingAndGlyphs">-16.2%</text>
<text class="r" x="1968.2" y="756.6" font-size="39.44" textLength="25.2" lengthAdjust="spacingAndGlyphs">c</text>
<text class="r" x="1915.8" y="857.6" font-size="46.67" textLength="21.8" lengthAdjust="spacingAndGlyphs">a</text>
<text class="r" x="2095.3" y="949.9" font-size="34.86" textLength="87.5" lengthAdjust="spacingAndGlyphs">14.8%</text>
<text class="r" x="2204.9" y="950.6" font-size="40.83" textLength="29.4" lengthAdjust="spacingAndGlyphs">b</text>
<text class="r" x="1374.6" y="1047.5" font-size="44.5" text-anchor="middle" textLength="79.7" lengthAdjust="spacingAndGlyphs">0.00</text>
<text class="r" x="1537.2" y="1047.5" font-size="44.5" text-anchor="middle" textLength="79.7" lengthAdjust="spacingAndGlyphs">0.01</text>
<text class="r" x="1699.8" y="1047.5" font-size="44.5" text-anchor="middle" textLength="79.7" lengthAdjust="spacingAndGlyphs">0.02</text>
<text class="r" x="1862.3" y="1047.5" font-size="44.5" text-anchor="middle" textLength="79.7" lengthAdjust="spacingAndGlyphs">0.03</text>
<text class="r" x="2024.9" y="1047.5" font-size="44.5" text-anchor="middle" textLength="79.7" lengthAdjust="spacingAndGlyphs">0.04</text>
<text class="r" x="2187.5" y="1047.5" font-size="44.5" text-anchor="middle" textLength="79.7" lengthAdjust="spacingAndGlyphs">0.05</text>
<text class="r" x="2350.1" y="1047.5" font-size="44.5" text-anchor="middle" textLength="79.7" lengthAdjust="spacingAndGlyphs">0.06</text>
<text class="c" x="39.6" y="1154.8" font-size="58.59" textLength="34.6" lengthAdjust="spacingAndGlyphs">C</text>
<text class="c" x="374.3" y="1156.9" font-size="53.04" textLength="308.6" lengthAdjust="spacingAndGlyphs">Tb.N (1/mm)</text>
<text class="c" x="16.5" y="1233.3" font-size="31.27" textLength="17.3" lengthAdjust="spacingAndGlyphs">0</text>
<text class="c" x="73.2" y="1233.3" font-size="31.27" textLength="16.6" lengthAdjust="spacingAndGlyphs">3</text>
<text class="c" x="130.4" y="1233.3" font-size="31.27" textLength="17.8" lengthAdjust="spacingAndGlyphs">6</text>
<text class="c" x="170.0" y="1258.3" font-size="35.10" textLength="107.0" lengthAdjust="spacingAndGlyphs">Weeks</text>
<text class="r" x="23.2" y="1324.7" font-size="26.20" textLength="55.0" lengthAdjust="spacingAndGlyphs">GND</text>
<text class="r" x="25.1" y="1427.9" font-size="26.06" textLength="48.9" lengthAdjust="spacingAndGlyphs">HLS</text>
<text class="r" x="23.2" y="1521.3" font-size="26.90" textLength="55.0" lengthAdjust="spacingAndGlyphs">GND</text>
<text class="r" x="82.9" y="1521.3" font-size="26.90" textLength="53.7" lengthAdjust="spacingAndGlyphs">GND</text>
<text class="r" x="25.1" y="1624.7" font-size="26.76" textLength="48.9" lengthAdjust="spacingAndGlyphs">HLS</text>
<text class="r" x="82.9" y="1624.7" font-size="26.76" textLength="53.7" lengthAdjust="spacingAndGlyphs">GND</text>
<text class="r" x="23.2" y="1720.7" font-size="26.76" textLength="55.0" lengthAdjust="spacingAndGlyphs">GND</text>
<text class="r" x="25.1" y="1815.9" font-size="25.63" textLength="48.9" lengthAdjust="spacingAndGlyphs">HLS</text>
<text class="r" x="23.2" y="1914.7" font-size="25.35" textLength="55.0" lengthAdjust="spacingAndGlyphs">GND</text>
<text class="r" x="82.9" y="1914.7" font-size="25.35" textLength="53.7" lengthAdjust="spacingAndGlyphs">GND</text>
<text class="r" x="25.1" y="2013.7" font-size="25.35" textLength="48.9" lengthAdjust="spacingAndGlyphs">HLS</text>
<text class="r" x="82.9" y="2013.7" font-size="25.35" textLength="53.7" lengthAdjust="spacingAndGlyphs">GND</text>
<text class="r" x="1001.4" y="1344.2" font-size="43.04" textLength="29.2" lengthAdjust="spacingAndGlyphs">A</text>
<text class="r" x="973.1" y="1447.6" font-size="38.14" textLength="80.8" lengthAdjust="spacingAndGlyphs">-6.1%</text>
<text class="r" x="1061.8" y="1447.6" font-size="42.90" textLength="30.2" lengthAdjust="spacingAndGlyphs">B</text>
<text class="r" x="972.3" y="1544.2" font-size="43.04" textLength="31.7" lengthAdjust="spacingAndGlyphs">B</text>
<text class="r" x="884.4" y="1644.6" font-size="34.71" textLength="80.8" lengthAdjust="spacingAndGlyphs">-6.2%</text>
<text class="r" x="974.1" y="1645.6" font-size="43.71" textLength="30.5" lengthAdjust="spacingAndGlyphs">C</text>
<text class="r" x="894.8" y="1741.2" font-size="46.67" textLength="22.0" lengthAdjust="spacingAndGlyphs">a</text>
<text class="r" x="783.8" y="1840.2" font-size="35.14" textLength="98.7" lengthAdjust="spacingAndGlyphs">-12.1%</text>
<text class="r" x="888.6" y="1842.6" font-size="42.21" textLength="27.5" lengthAdjust="spacingAndGlyphs">b</text>
<text class="r" x="862.8" y="1942.1" font-size="45.74" textLength="21.5" lengthAdjust="spacingAndGlyphs">a</text>
<text class="r" x="795.8" y="2037.3" font-size="34.00" textLength="98.5" lengthAdjust="spacingAndGlyphs">-10.4%</text>
<text class="r" x="903.4" y="2041.6" font-size="44.97" textLength="27.5" lengthAdjust="spacingAndGlyphs">b</text>
<text class="r" x="171.2" y="2133.3" font-size="44.5" text-anchor="middle" textLength="22.8" lengthAdjust="spacingAndGlyphs">0</text>
<text class="r" x="336.5" y="2133.3" font-size="44.5" text-anchor="middle" textLength="22.8" lengthAdjust="spacingAndGlyphs">1</text>
<text class="r" x="501.9" y="2133.3" font-size="44.5" text-anchor="middle" textLength="22.8" lengthAdjust="spacingAndGlyphs">2</text>
<text class="r" x="667.2" y="2133.3" font-size="44.5" text-anchor="middle" textLength="22.8" lengthAdjust="spacingAndGlyphs">3</text>
<text class="r" x="832.6" y="2133.3" font-size="44.5" text-anchor="middle" textLength="22.8" lengthAdjust="spacingAndGlyphs">4</text>
<text class="r" x="998.0" y="2133.3" font-size="44.5" text-anchor="middle" textLength="22.8" lengthAdjust="spacingAndGlyphs">5</text>
<text class="c" x="1229.5" y="1151.1" font-size="60.72" textLength="41.1" lengthAdjust="spacingAndGlyphs">D</text>
<text class="c" x="1582.6" y="1156.9" font-size="52.46" textLength="276.4" lengthAdjust="spacingAndGlyphs">Tb.Sp (mm)</text>
<text class="c" x="1210.7" y="1220.3" font-size="32.25" textLength="18.1" lengthAdjust="spacingAndGlyphs">0</text>
<text class="c" x="1269.7" y="1220.3" font-size="32.25" textLength="16.5" lengthAdjust="spacingAndGlyphs">3</text>
<text class="c" x="1327.5" y="1220.3" font-size="32.25" textLength="18.7" lengthAdjust="spacingAndGlyphs">6</text>
<text class="c" x="1362.0" y="1249.1" font-size="36.19" textLength="107.0" lengthAdjust="spacingAndGlyphs">Weeks</text>
<text class="r" x="1217.8" y="1314.7" font-size="26.20" textLength="55.0" lengthAdjust="spacingAndGlyphs">GND</text>
<text class="r" x="1219.7" y="1419.0" font-size="26.06" textLength="48.9" lengthAdjust="spacingAndGlyphs">HLS</text>
<text class="r" x="1217.8" y="1516.8" font-size="26.06" textLength="55.0" lengthAdjust="spacingAndGlyphs">GND</text>
<text class="r" x="1278.9" y="1516.8" font-size="26.06" textLength="54.9" lengthAdjust="spacingAndGlyphs">GND</text>
<text class="r" x="1219.7" y="1622.3" font-size="26.20" textLength="48.9" lengthAdjust="spacingAndGlyphs">HLS</text>
<text class="r" x="1278.9" y="1622.3" font-size="26.20" textLength="54.9" lengthAdjust="spacingAndGlyphs">GND</text>
<text class="r" x="1217.8" y="1722.0" font-size="25.49" textLength="55.0" lengthAdjust="spacingAndGlyphs">GND</text>
<text class="r" x="1219.7" y="1819.2" font-size="26.20" textLength="48.9" lengthAdjust="spacingAndGlyphs">HLS</text>
<text class="r" x="1217.8" y="1921.3" font-size="26.20" textLength="55.0" lengthAdjust="spacingAndGlyphs">GND</text>
<text class="r" x="1278.9" y="1921.3" font-size="26.20" textLength="54.9" lengthAdjust="spacingAndGlyphs">GND</text>
<text class="r" x="1219.7" y="2021.3" font-size="26.20" textLength="48.9" lengthAdjust="spacingAndGlyphs">HLS</text>
<text class="r" x="1278.9" y="2021.3" font-size="26.20" textLength="54.9" lengthAdjust="spacingAndGlyphs">GND</text>
<text class="r" x="1785.7" y="1341.6" font-size="47.25" textLength="32.4" lengthAdjust="spacingAndGlyphs">A</text>
<text class="r" x="1837.0" y="1442.0" font-size="36.26" textLength="47.2" lengthAdjust="spacingAndGlyphs">7%</text>
<text class="r" x="1909.4" y="1445.0" font-size="45.22" textLength="32.8" lengthAdjust="spacingAndGlyphs">B</text>
<text class="r" x="1874.1" y="1544.6" font-size="45.36" textLength="32.0" lengthAdjust="spacingAndGlyphs">B</text>
<text class="r" x="1860.8" y="1639.1" font-size="36.40" textLength="46.5" lengthAdjust="spacingAndGlyphs">7%</text>
<text class="r" x="1978.7" y="1639.1" font-size="46.57" textLength="31.5" lengthAdjust="spacingAndGlyphs">C</text>
<text class="r" x="2030.3" y="1741.6" font-size="49.63" textLength="23.5" lengthAdjust="spacingAndGlyphs">a</text>
<text class="r" x="2120.2" y="1846.5" font-size="36.40" textLength="64.0" lengthAdjust="spacingAndGlyphs">15%</text>
<text class="r" x="2219.9" y="1846.6" font-size="43.59" textLength="29.0" lengthAdjust="spacingAndGlyphs">b</text>
<text class="r" x="1974.3" y="1941.6" font-size="46.85" textLength="23.0" lengthAdjust="spacingAndGlyphs">a</text>
<text class="r" x="2120.6" y="2046.5" font-size="36.14" textLength="64.7" lengthAdjust="spacingAndGlyphs">13%</text>
<text class="r" x="2224.2" y="2039.1" font-size="42.90" textLength="28.7" lengthAdjust="spacingAndGlyphs">b</text>
<text class="r" x="1369.2" y="2143.9" font-size="44.5" text-anchor="middle" textLength="56.9" lengthAdjust="spacingAndGlyphs">0.1</text>
<text class="r" x="1714.1" y="2143.9" font-size="44.5" text-anchor="middle" textLength="56.9" lengthAdjust="spacingAndGlyphs">0.2</text>
<text class="r" x="2059.0" y="2143.9" font-size="44.5" text-anchor="middle" textLength="56.9" lengthAdjust="spacingAndGlyphs">0.3</text>
<text class="c" x="960.4" y="745.4" font-size="53.62" textLength="79.6" lengthAdjust="spacingAndGlyphs">WT</text>
<text class="c" x="959.3" y="847.2" font-size="50.11" textLength="125.7" lengthAdjust="spacingAndGlyphs">Hypo</text>
</g>
</g>
</svg>
</div>
</body></html>
